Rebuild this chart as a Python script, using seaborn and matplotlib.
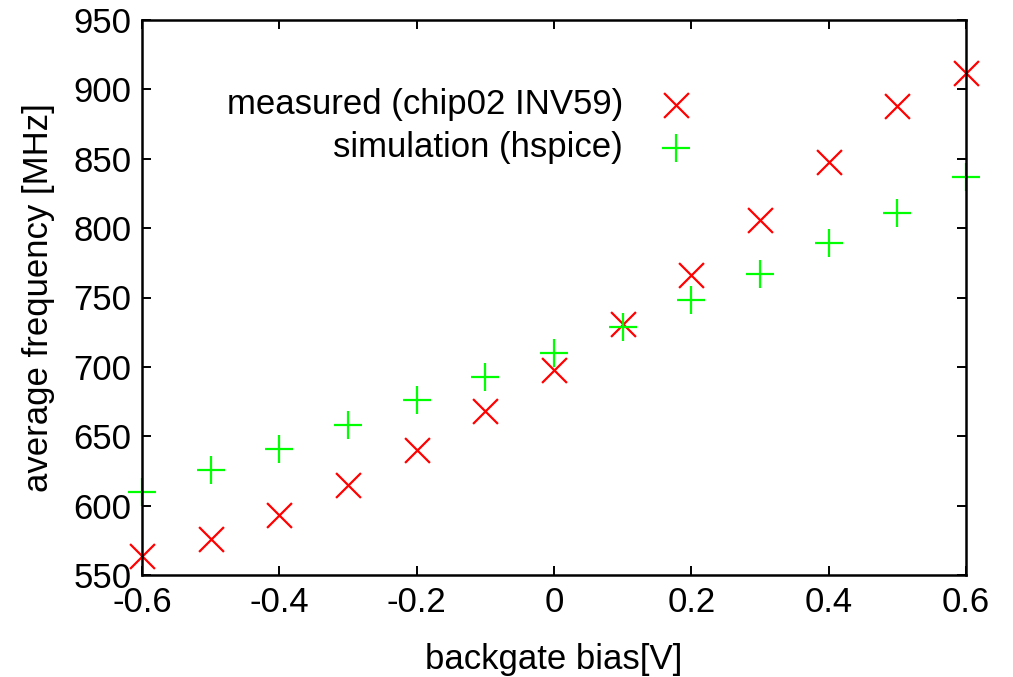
import matplotlib
matplotlib.use("Agg")
import pandas as pd
import seaborn as sns
from matplotlib import pyplot as plt

# backgate bias sweep [V]
BIAS = [-0.6, -0.5, -0.4, -0.3, -0.2, -0.1, 0.0, 0.1, 0.2, 0.3, 0.4, 0.5, 0.6]
# average frequency [MHz]
MEASURED = [564, 576, 593, 615, 640, 668, 698, 731, 766, 806, 848, 888, 912]
SIMULATION = [610, 626, 641, 658, 676, 693, 710, 729, 748, 767, 789, 811, 837]

LABEL_MEASURED = "measured (chip02 INV59)"
LABEL_SIMULATION = "simulation (hspice)"

X_TICKS = [-0.6, -0.4, -0.2, 0, 0.2, 0.4, 0.6]
X_TICK_LABELS = ["-0.6", "-0.4", "-0.2", "0", "0.2", "0.4", "0.6"]
Y_TICKS = [550, 600, 650, 700, 750, 800, 850, 900, 950]

FONT_SIZE = 25


def main():
    sns.set_theme(style="ticks")
    plt.rcParams["font.family"] = ["Liberation Sans", "DejaVu Sans"]
    plt.rcParams["axes.linewidth"] = 1.8
    plt.rcParams["text.color"] = "black"
    plt.rcParams["axes.labelcolor"] = "black"

    df = pd.DataFrame({"bias": BIAS, "measured": MEASURED, "simulation": SIMULATION})

    fig = plt.figure(figsize=(10.13, 6.77), dpi=100)
    ax = fig.add_axes([142 / 1013, 1 - 575 / 677, (966 - 142) / 1013, (575 - 20) / 677])

    sns.scatterplot(data=df, x="bias", y="measured", marker="x", s=320, color="#ff0000",
                    linewidth=1.6, label=LABEL_MEASURED, ax=ax, clip_on=False)
    sns.scatterplot(data=df, x="bias", y="simulation", marker="+", s=380, color="#00ff00",
                    linewidth=1.6, label=LABEL_SIMULATION, ax=ax, clip_on=False)

    ax.set_xlim(-0.6, 0.6)
    ax.set_ylim(550, 950)
    ax.set_xticks(X_TICKS)
    ax.set_xticklabels(X_TICK_LABELS)
    ax.set_yticks(Y_TICKS)
    ax.tick_params(direction="in", length=6.5, width=1.4, labelsize=FONT_SIZE, colors="black",
                   top=True, right=True)
    ax.tick_params(axis="x", pad=8)
    ax.tick_params(axis="y", pad=7.5)
    for spine in ax.spines.values():
        spine.set_color("black")
        spine.set_zorder(3)

    ax.set_xlabel("backgate bias[V]", fontsize=FONT_SIZE, labelpad=17)
    ax.set_ylabel("average frequency [MHz]", fontsize=FONT_SIZE, labelpad=13)

    ax.legend(loc="upper right", bbox_to_anchor=(711 / 1013, 1 - 88 / 677), bbox_transform=fig.transFigure,
              frameon=False, markerfirst=False, fontsize=FONT_SIZE, handlelength=2.0, handletextpad=0.53,
              borderpad=0, borderaxespad=0, labelspacing=0.3)

    fig.savefig("out.png", dpi=100)
    plt.close(fig)


if __name__ == "__main__":
    main()
